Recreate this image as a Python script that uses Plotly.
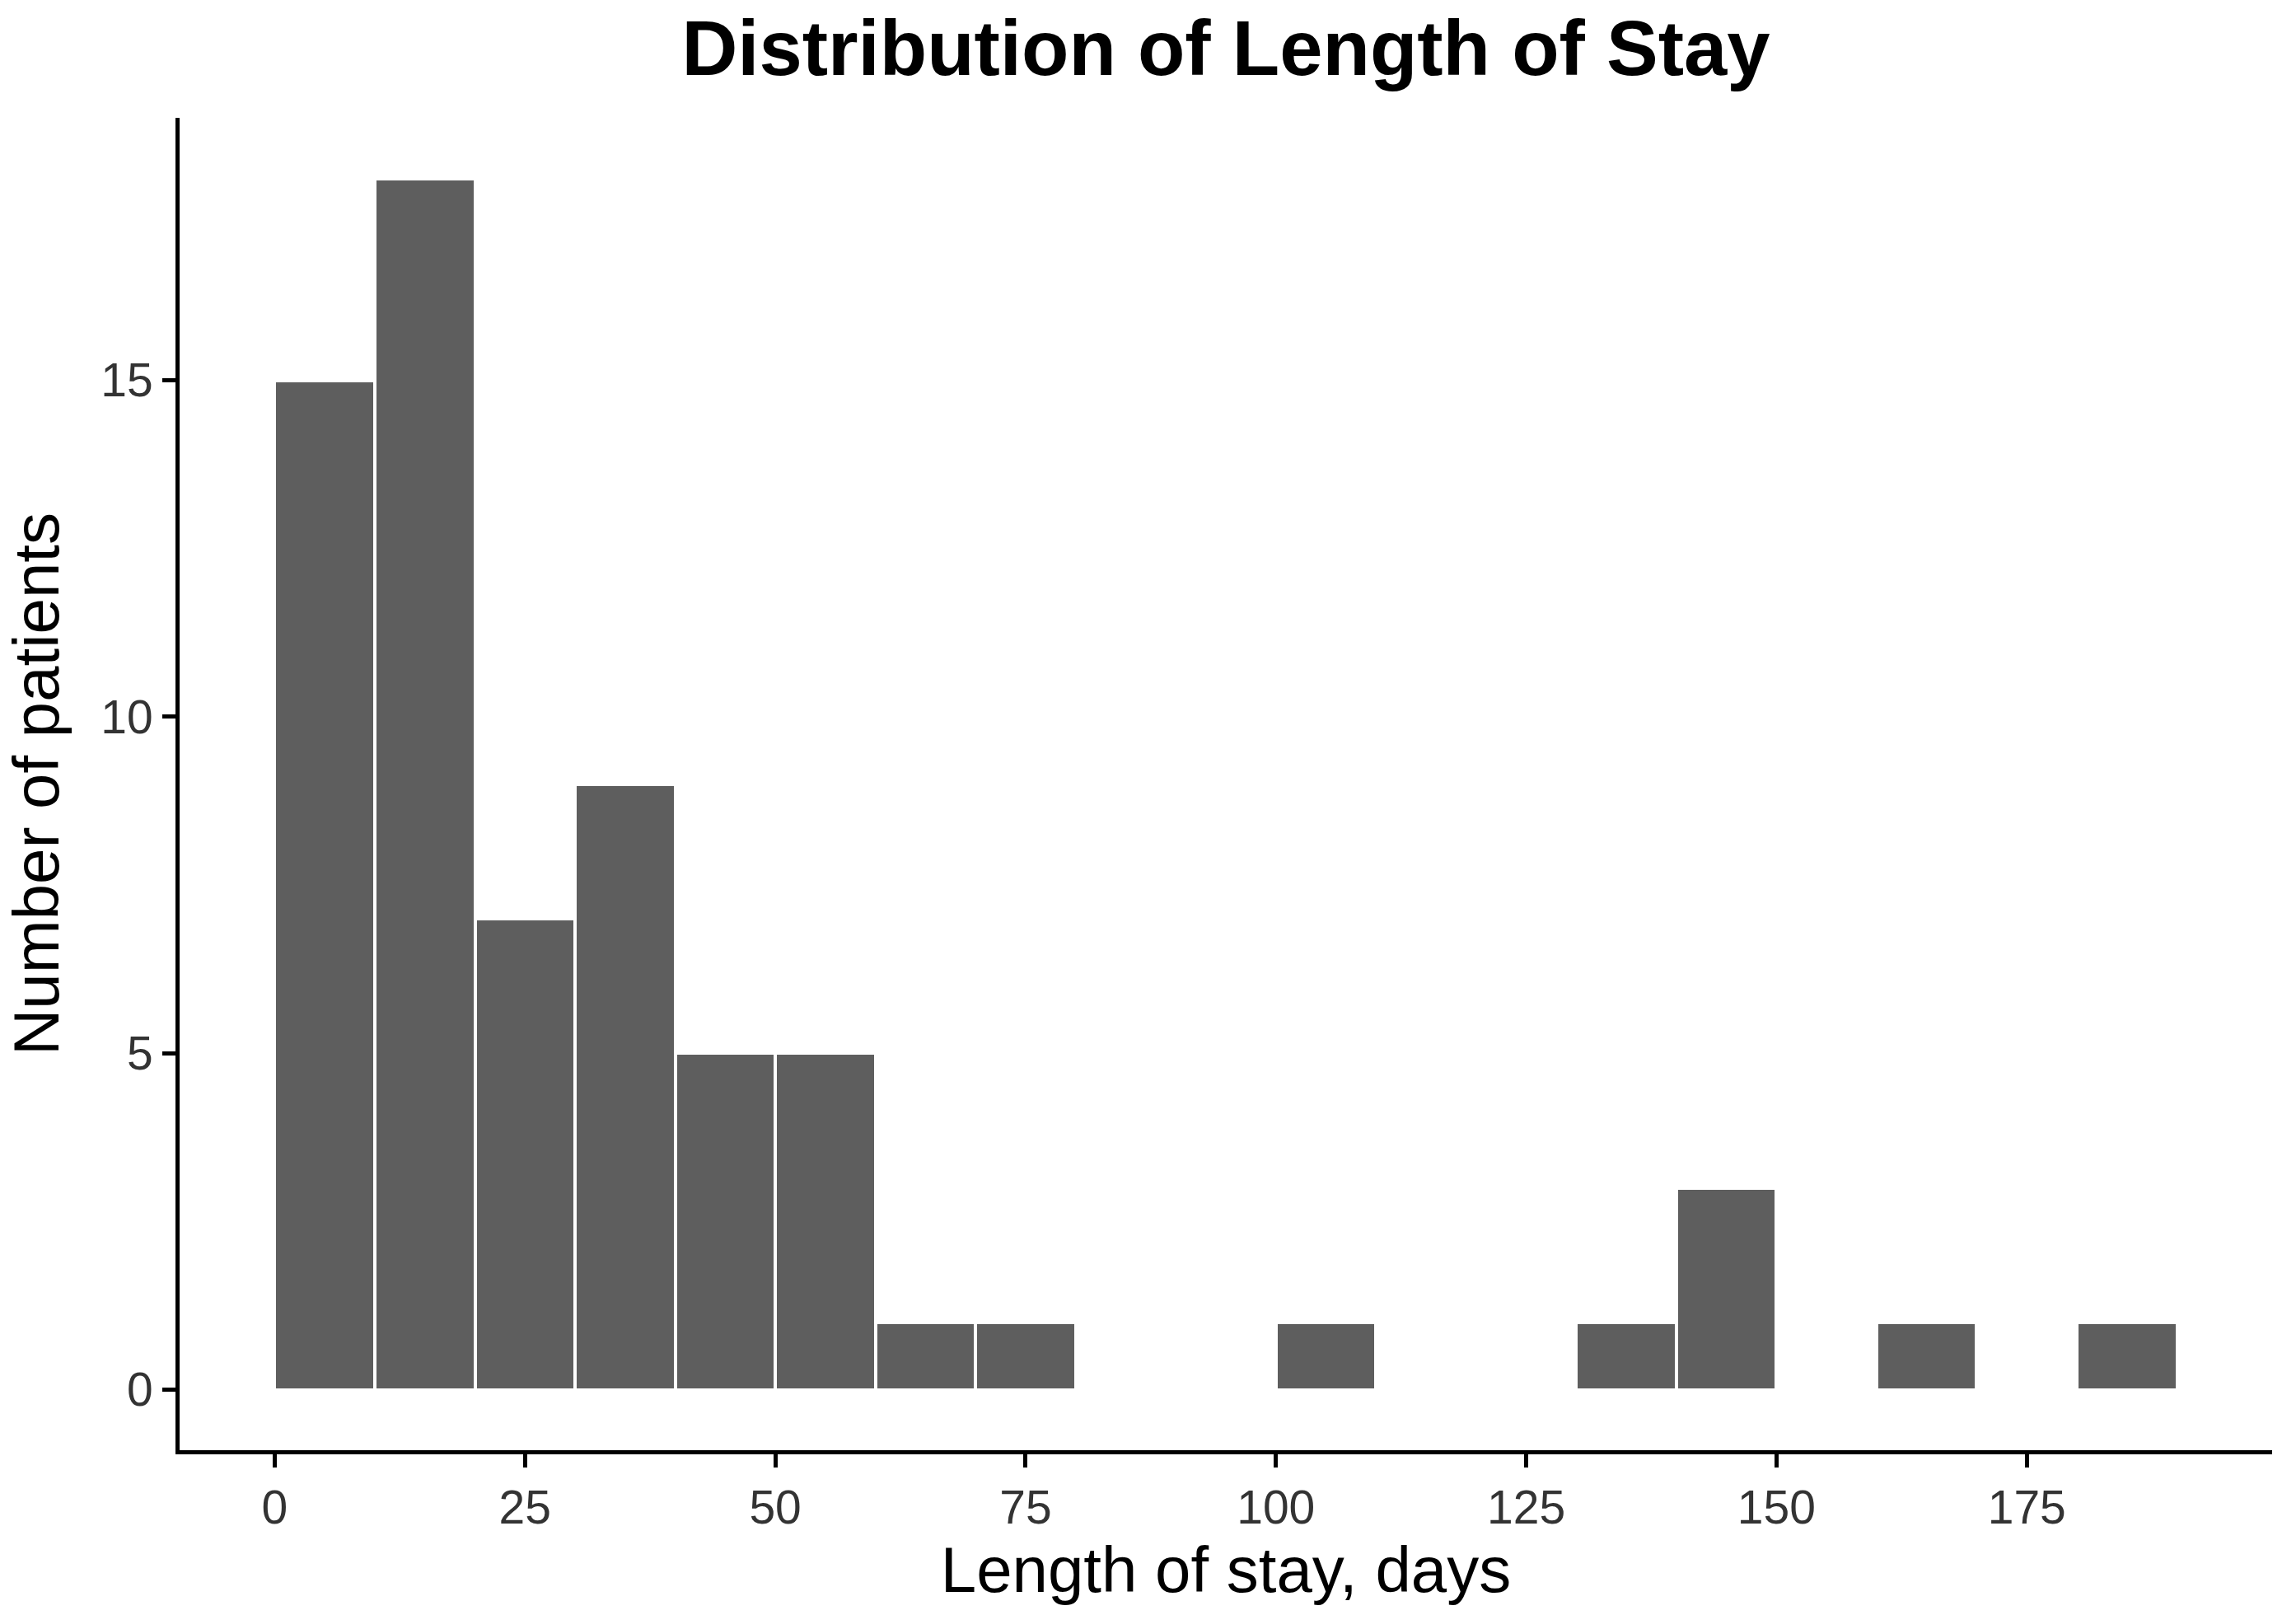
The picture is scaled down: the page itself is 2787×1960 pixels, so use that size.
import plotly.graph_objects as go

# histogram of length of stay, bins of 10 days
bin_starts = [0, 10, 20, 30, 40, 50, 60, 70, 100, 130, 140, 160, 180]
counts = [15, 18, 7, 9, 5, 5, 1, 1, 1, 1, 3, 1, 1]
bin_width = 10

x_ticks = [0, 25, 50, 75, 100, 125, 150, 175]
y_ticks = [0, 5, 10, 15]

title_text = "Distribution of Length of Stay"
x_title = "Length of stay, days"
y_title = "Number of patients"

FONT = "Liberation Sans, Arial, Helvetica, sans-serif"

fig = go.Figure()
fig.add_trace(go.Bar(
    x=bin_starts,
    y=counts,
    width=bin_width,
    offset=0,
    marker=dict(color="#5e5e5e", line=dict(color="white", width=4)),
    showlegend=False,
))

fig.update_layout(
    width=2787,
    height=1960,
    margin=dict(l=218, r=29, t=143, b=200),
    paper_bgcolor="white",
    plot_bgcolor="white",
    font=dict(family=FONT, color="black"),
    title=dict(
        text="<b>" + title_text + "</b>",
        font=dict(size=94, color="black"),
        x=0.5, xref="paper", xanchor="center",
        y=1 - 58 / 1960, yref="container", yanchor="middle",
    ),
    bargap=0,
)

fig.update_xaxes(
    range=[-9.5, 199.5],
    tickvals=x_ticks,
    ticks="outside",
    ticklen=16,
    tickwidth=5,
    tickcolor="black",
    showline=True,
    linecolor="black",
    linewidth=5,
    showgrid=False,
    zeroline=False,
    tickfont=dict(size=57, color="#333333"),
    title=dict(text=x_title, font=dict(size=78, color="black"), standoff=12),
)
fig.update_yaxes(
    range=[-0.9, 18.9],
    tickvals=y_ticks,
    ticks="outside",
    ticklen=16,
    tickwidth=5,
    tickcolor="black",
    showline=True,
    linecolor="black",
    linewidth=5,
    showgrid=False,
    zeroline=False,
    tickfont=dict(size=57, color="#333333"),
    title=dict(text=y_title, font=dict(size=78, color="black"), standoff=30),
)

fig.write_html("out.html", config={"displayModeBar": False},
               post_script="document.body.style.margin='0';")
